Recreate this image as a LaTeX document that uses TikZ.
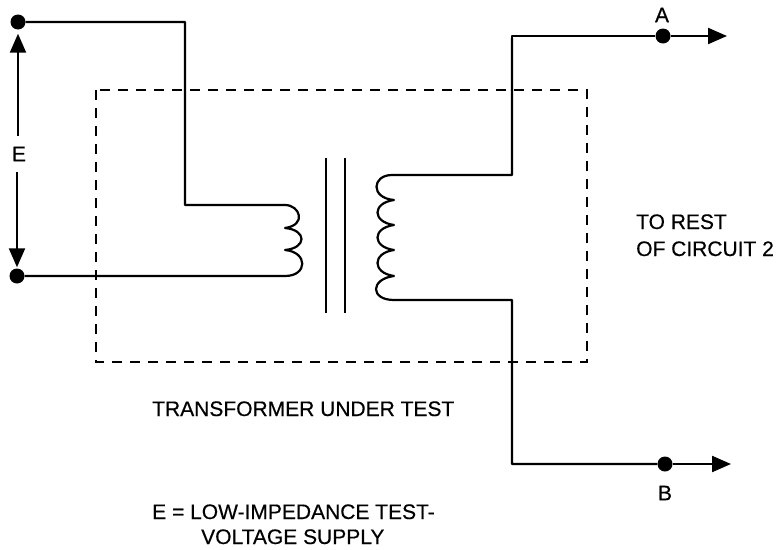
\documentclass[tikz,border=0pt]{standalone}
\usepackage{fontspec}
\setmainfont{Liberation Sans}[FakeBold=0.4]
\usetikzlibrary{arrows.meta}
\tikzset{
  wire/.style={draw=black,line width=2.2pt,line join=round},
  term/.style={circle,fill=black,draw=none,minimum size=15pt,inner sep=0pt},
  tip/.style={wire,-{Triangle[length=19pt,width=16pt,sep=0pt]}},
  lbl/.style={inner sep=0pt,font=\fontsize{21}{26}\selectfont\addfontfeature{FakeBold=0.4},text=black},
  boxline/.style={draw=black,line width=2pt,dash pattern=on 10pt off 8pt}
}
\begin{document}
\begin{tikzpicture}[x=1pt,y=-1pt]
\useasboundingbox (0,0) rectangle (779,549);
\fill[white] (0,0) rectangle (779,549);
% terminals
\node[term] (t1) at (18,22) {};
\node[term] (t2) at (17,276) {};
\node[term] (a) at (663,36) {};
\node[term] (b) at (665,464) {};
% free ends and corners
\coordinate (aend) at (727,36);
\coordinate (bend) at (731,464);
\coordinate (c1) at (185,22);
\coordinate (c2) at (185,205);
\coordinate (pt) at (285,205);
\coordinate (pb) at (285,276);
\coordinate (st) at (394,175);
\coordinate (sb) at (394,300);
\coordinate (c3) at (512,175);
\coordinate (c4) at (512,38);
\coordinate (c5) at (512,300);
% dashed box
\draw[boxline] (96,90) rectangle (587,362);
% primary
\draw[wire] (t1) -- (c1) -- (c2) -- (pt)
  .. controls (300,205) and (307,225) .. (285,228)
  .. controls (307,230) and (307,248) .. (285,250)
  .. controls (308,252) and (308,276) .. (pb) -- (t2);
% secondary
\draw[wire] (c4) -- (c3) -- (st) -- (392,175)
  .. controls (372,175) and (370,198) .. (394,200)
  .. controls (372,203) and (372,222) .. (394,225)
  .. controls (372,228) and (372,247) .. (394,250)
  .. controls (372,253) and (372,273) .. (394,276)
  .. controls (370,279) and (370,300) .. (sb) -- (c5) -- (512,464) -- (b);
% core
\coordinate (k1) at (326,158);
\coordinate (k2) at (326,313);
\coordinate (k3) at (345,158);
\coordinate (k4) at (345,313);
\draw[wire] (k1) -- (k2);
\draw[wire] (k3) -- (k4);
% outputs
\draw[wire] (c4) -- (512,36) -- (a);
\draw[tip] (a) -- (aend);
\draw[tip] (b) -- (bend);
% E arrow
\node[lbl] (e) at (19,154) {E};
\draw[tip,shorten >=4pt] (18,136) -- (t1.south);
\draw[tip,shorten >=1pt] (17,172) -- (t2.north);
% labels
\node[lbl] (la) at (662,15) {A};
\node[lbl] (lb) at (665,493) {B};
\node[lbl,anchor=base west] (rest) at (636,229) {TO REST};
\node[lbl,anchor=base west] (rest2) at (636,256) {OF CIRCUIT 2};
\node[lbl,anchor=base west] (tut) at (152,416) {TRANSFORMER UNDER TEST};
\node[lbl,anchor=base west] (e1) at (152,519) {E = LOW-IMPEDANCE TEST-};
\node[lbl,anchor=base west] (e2) at (201,544) {VOLTAGE SUPPLY};
\end{tikzpicture}
\end{document}
